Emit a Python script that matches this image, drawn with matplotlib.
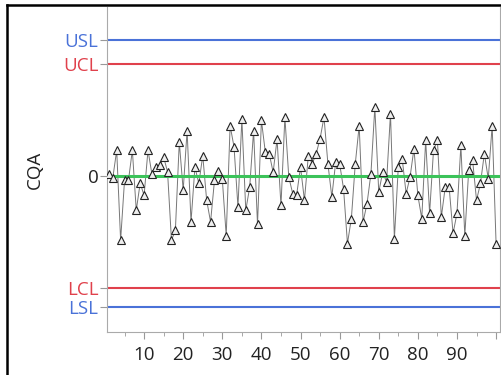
import numpy as np
import matplotlib
matplotlib.use("Agg")
import matplotlib.pyplot as plt
from matplotlib.ticker import MultipleLocator

plt.rcParams['font.family'] = ['Open Sans', 'DejaVu Sans']

# CQA readings per sample
cqa = [0.06, -0.05, 0.69, -1.72, -0.12, -0.12, 0.69, -0.92, -0.19, -0.52,
       0.69, 0.05, 0.24, 0.29, 0.51, 0.11, -1.72, -1.46, 0.91, -0.38,
       1.22, -1.23, 0.24, -0.2, 0.55, -0.65, -1.23, -0.12, 0.13, -0.08,
       -1.6, 1.35, 0.78, -0.83, 1.53, -0.92, -0.3, 1.22, -1.3, 1.49,
       0.64, 0.6, 0.1, 0.99, -0.79, 1.58, -0.03, -0.47, -0.51, 0.24,
       -0.65, 0.55, 0.33, 0.6, 1.0, 1.58, 0.33, -0.56, 0.38, 0.33,
       -0.34, -1.81, -1.14, 0.33, 1.35, -1.23, -0.74, 0.06, 1.85, -0.43,
       0.1, -0.16, 1.67, -1.68, 0.24, 0.46, -0.47, -0.03, 0.73, -0.52,
       -1.14, 0.96, -1.0, 0.69, 0.96, -1.1, -0.3, -0.3, -1.54, -1.0,
       0.82, -1.6, 0.15, 0.42, -0.65, -0.2, 0.6, -0.07, 1.35, -1.81]
samples = np.arange(1, len(cqa) + 1)

# limits
center = 0.0
limit_names = ["USL", "UCL", "LCL", "LSL"]
limit_values = [3.65, 3.0, -3.0, -3.5]
blue = "#4a72d8"
red = "#e0414c"
limit_colors = [blue, red, red, blue]

fig = plt.figure(figsize=(5.02, 3.75), dpi=100)
ax = fig.add_axes([0.213, 0.115, 0.783, 0.866])

for val, col in zip(limit_values, limit_colors):
    ax.axhline(val, color=col, lw=1.5, zorder=2)

ax.plot(samples, cqa, color="#777777", lw=0.7, zorder=3)
ax.axhline(center, color="#3cc35a", lw=2.2, zorder=4)
ax.plot(samples, cqa, ls="none", marker="^", ms=6, mfc="#eeeeee",
        mec="#222222", mew=0.8, zorder=5)

ax.set_xlim(0.5, 101)
ax.set_ylim(-4.18, 4.53)

ax.xaxis.set_minor_locator(MultipleLocator(5))
ax.set_xticks(range(10, 101, 10))
ax.set_xticklabels([str(v) for v in range(10, 100, 10)] + [""])
ax.tick_params(axis="x", which="major", length=5, color="#999999",
               labelsize=13.5, labelcolor="#222222", pad=5)
ax.tick_params(axis="x", which="minor", length=3, color="#999999")

yt = limit_values[:2] + [center] + limit_values[2:]
ylabels = limit_names[:2] + ["0"] + limit_names[2:]
ycols = limit_colors[:2] + ["#222222"] + limit_colors[2:]
ax.set_yticks(yt)
ax.set_yticklabels(ylabels, fontsize=13.5)
for lab, col in zip(ax.get_yticklabels(), ycols):
    lab.set_color(col)
ax.tick_params(axis="y", length=5, color="#999999", pad=1)

ax.set_ylabel("CQA", fontsize=13.5, color="#222222", labelpad=14)

for side in ["left", "bottom", "right"]:
    ax.spines[side].set_color("#aaaaaa")
ax.spines["top"].set_visible(False)

# outer frame
fig.add_artist(plt.Line2D([0.014, 0.014], [0.0, 0.987], color="black", lw=1.8,
                          transform=fig.transFigure))
fig.add_artist(plt.Line2D([0.014, 1.0], [0.987, 0.987], color="black", lw=1.8,
                          transform=fig.transFigure))

fig.savefig("out.png", dpi=100)
